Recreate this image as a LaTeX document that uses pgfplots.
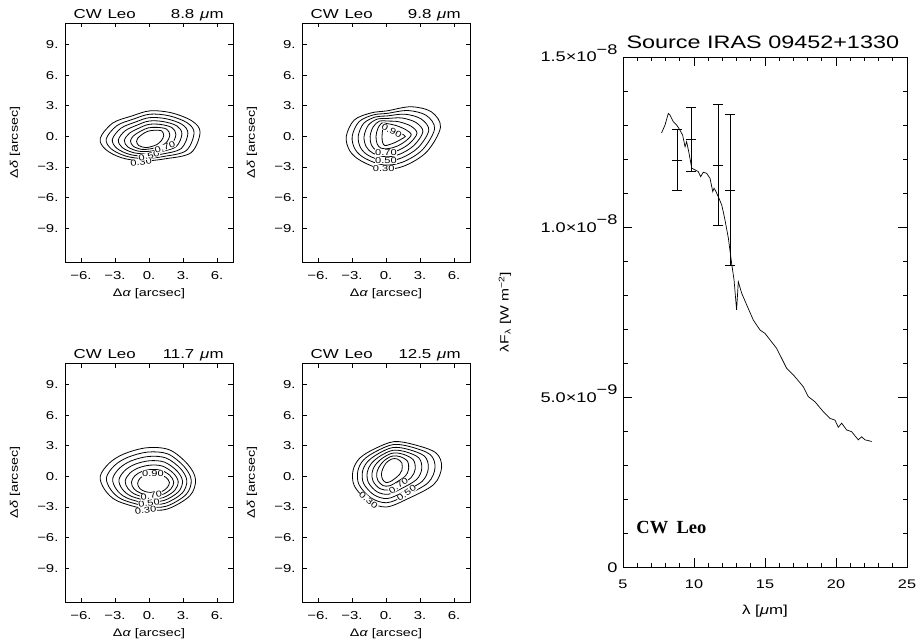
\documentclass[border=0pt]{standalone}
\usepackage{fontspec}
\setmainfont{Liberation Sans}[FakeStretch=1.3]
\newfontfamily\cwfont{Liberation Serif}
\usepackage{graphicx}
\usepackage{pgfplots}
\pgfplotsset{compat=1.18}

\newcommand{\fs}[1]{\fontsize{#1}{#1}\selectfont}

\pgfplotsset{
  cpanel/.style={
    scale only axis, width=168pt, height=239pt, clip=false,
    xmin=-7.4, xmax=7.4, ymin=-12.3, ymax=11.1,
    axis line style={line width=0.8pt},
    xtick={-6,-3,0,3,6}, xticklabels={−6.,−3.,0.,3.,6.},
    ytick={-9,-6,-3,0,3,6,9}, yticklabels={−9.,−6.,−3.,0.,3.,6.,9.},
    major tick length=4.5pt, tick align=inside,
    tick style={line width=0.7pt, black},
    tick label style={font=\fs{11.5}},
    xticklabel style={yshift=-6pt},
    yticklabel style={xshift=-3pt},
    xlabel={Δ\textit{α} [arcsec]}, ylabel={Δ\textit{δ} [arcsec]},
    label style={font=\fs{11}},
    xlabel style={at={(axis description cs:0.5,0)}, anchor=center, yshift=-32pt},
    ylabel style={at={(axis description cs:0,0.5)}, anchor=center, yshift=50pt},
  },
  ctr/.style={black, line width=0.8pt, smooth cycle, tension=0.55, mark=none},
}
\tikzset{clab/.style={font=\fs{8.5}, fill=white, inner sep=0.3pt}}

\begin{document}
\begin{tikzpicture}
\useasboundingbox (0,0) rectangle (918pt,-639pt);

% ---- 8.8 um
\begin{axis}[cpanel, at={(65pt,-23pt)}, anchor=north west]
\addplot[ctr] coordinates {(4.5,0.4)(3.8,1.5)(2.0,2.3)(0.1,2.5)(-1.5,2.0)(-3.2,1.3)(-4.3,-0.2)(-3.8,-1.3)(-2.4,-2.1)(-0.6,-2.4)(1.4,-2.2)(3.7,-1.6)};
\addplot[ctr] coordinates {(3.97,0.35)(3.35,1.34)(1.75,2.02)(0.07,2.17)(-1.35,1.7)(-2.83,1.05)(-3.77,-0.25)(-3.32,-1.23)(-2.05,-1.93)(-0.47,-2.17)(1.28,-1.97)(3.27,-1.4)};
\addplot[ctr] coordinates {(3.43,0.3)(2.9,1.18)(1.5,1.73)(0.03,1.83)(-1.2,1.4)(-2.47,0.8)(-3.23,-0.3)(-2.83,-1.17)(-1.7,-1.77)(-0.33,-1.93)(1.17,-1.73)(2.83,-1.2)};
\addplot[ctr] coordinates {(2.9,0.25)(2.45,1.03)(1.25,1.45)(0,1.5)(-1.05,1.1)(-2.1,0.55)(-2.7,-0.35)(-2.35,-1.1)(-1.35,-1.6)(-0.2,-1.7)(1.05,-1.5)(2.4,-1.0)};
\addplot[ctr] coordinates {(2.37,0.2)(2.0,0.87)(1.0,1.17)(-0.03,1.17)(-0.9,0.8)(-1.73,0.3)(-2.17,-0.4)(-1.87,-1.03)(-1.0,-1.43)(-0.07,-1.47)(0.93,-1.27)(1.97,-0.8)};
\addplot[ctr] coordinates {(1.83,0.15)(1.55,0.71)(0.75,0.88)(-0.07,0.83)(-0.75,0.5)(-1.37,0.05)(-1.63,-0.45)(-1.38,-0.97)(-0.65,-1.27)(0.07,-1.23)(0.82,-1.03)(1.53,-0.6)};
\addplot[ctr] coordinates {(1.3,0.1)(1.1,0.55)(0.5,0.6)(-0.1,0.5)(-0.6,0.2)(-1.0,-0.2)(-1.1,-0.5)(-0.9,-0.9)(-0.3,-1.1)(0.2,-1.0)(0.7,-0.8)(1.1,-0.4)};
\node[clab, rotate=8] at (axis cs:-0.7,-2.55) {0.30};
\node[clab, rotate=15] at (axis cs:0.0,-1.9) {0.50};
\node[clab, rotate=20] at (axis cs:1.4,-1.05) {0.70};
\node[anchor=base west, font=\fs{13}] at (rel axis cs:0.03,1.02) {CW\hspace{0.45em}Leo};
\node[anchor=base east, font=\fs{13}] at (rel axis cs:0.965,1.02) {8.8\hspace{0.45em}\textit{μ}m};
\end{axis}

% ---- 9.8 um
\begin{axis}[cpanel, at={(302pt,-23pt)}, anchor=north west]
\addplot[ctr] coordinates {(4.8,0.9)(4.0,2.4)(2.2,2.9)(0.1,2.5)(-1.3,2.3)(-2.8,1.6)(-3.5,0)(-3.2,-1.4)(-2.2,-2.4)(-0.3,-3.2)(1.6,-2.9)(3.6,-1.5)};
\addplot[ctr] coordinates {(4.28,0.75)(3.55,2.05)(1.93,2.53)(0.1,2.25)(-1.12,2.1)(-2.38,1.43)(-2.98,0)(-2.72,-1.27)(-1.85,-2.15)(-0.2,-2.8)(1.47,-2.52)(3.22,-1.3)};
\addplot[ctr] coordinates {(3.77,0.6)(3.1,1.7)(1.67,2.17)(0.1,2.0)(-0.93,1.9)(-1.97,1.27)(-2.45,0)(-2.23,-1.13)(-1.5,-1.9)(-0.1,-2.4)(1.33,-2.13)(2.83,-1.1)};
\addplot[ctr] coordinates {(3.25,0.45)(2.65,1.35)(1.4,1.8)(0.1,1.75)(-0.75,1.7)(-1.55,1.1)(-1.93,0)(-1.75,-1.0)(-1.15,-1.65)(0,-2.0)(1.2,-1.75)(2.45,-0.9)};
\addplot[ctr] coordinates {(2.73,0.3)(2.2,1.0)(1.13,1.43)(0.1,1.5)(-0.57,1.5)(-1.13,0.93)(-1.4,0)(-1.27,-0.87)(-0.8,-1.4)(0.1,-1.6)(1.07,-1.37)(2.07,-0.7)};
\addplot[ctr] coordinates {(2.22,0.15)(1.75,0.65)(0.87,1.07)(0.1,1.25)(-0.38,1.3)(-0.72,0.77)(-0.88,0)(-0.78,-0.73)(-0.45,-1.15)(0.2,-1.2)(0.93,-0.98)(1.68,-0.5)};
\addplot[ctr] coordinates {(1.7,0)(1.3,0.3)(0.6,0.7)(0.1,1.0)(-0.2,1.1)(-0.3,0.6)(-0.35,0)(-0.3,-0.6)(-0.1,-0.9)(0.3,-0.8)(0.8,-0.6)(1.3,-0.3)};
\node[clab] at (axis cs:-0.2,-3.2) {0.30};
\node[clab] at (axis cs:0.0,-1.6) {0.70};
\node[clab] at (axis cs:0.0,-2.35) {0.50};
\node[clab, rotate=-28] at (axis cs:0.5,0.55) {0.90};
\node[anchor=base west, font=\fs{13}] at (rel axis cs:0.03,1.02) {CW\hspace{0.45em}Leo};
\node[anchor=base east, font=\fs{13}] at (rel axis cs:0.965,1.02) {9.8\hspace{0.45em}\textit{μ}m};
\end{axis}

% ---- 11.7 um
\begin{axis}[cpanel, at={(65pt,-363pt)}, anchor=north west]
\addplot[ctr] coordinates {(4.1,-0.3)(3.4,1.2)(1.8,2.6)(-0.2,2.8)(-2.2,2.2)(-3.5,1.3)(-4.3,0)(-3.9,-1.3)(-2.8,-2.4)(-0.3,-3.2)(1.6,-3.2)(3.6,-1.9)};
\addplot[ctr] coordinates {(3.72,-0.35)(3.08,0.98)(1.65,2.2)(-0.12,2.38)(-1.88,1.86)(-3.05,1.05)(-3.75,-0.12)(-3.38,-1.28)(-2.38,-2.25)(-0.18,-2.93)(1.52,-2.92)(3.27,-1.77)};
\addplot[ctr] coordinates {(3.33,-0.4)(2.77,0.77)(1.5,1.8)(-0.03,1.95)(-1.57,1.52)(-2.6,0.8)(-3.2,-0.23)(-2.87,-1.27)(-1.97,-2.1)(-0.07,-2.67)(1.43,-2.63)(2.93,-1.63)};
\addplot[ctr] coordinates {(2.95,-0.45)(2.45,0.55)(1.35,1.4)(0.05,1.53)(-1.25,1.18)(-2.15,0.55)(-2.65,-0.35)(-2.35,-1.25)(-1.55,-1.95)(0.05,-2.4)(1.35,-2.35)(2.6,-1.5)};
\addplot[ctr] coordinates {(2.57,-0.5)(2.13,0.33)(1.2,1.0)(0.13,1.1)(-0.93,0.83)(-1.7,0.3)(-2.1,-0.47)(-1.83,-1.23)(-1.13,-1.8)(0.17,-2.13)(1.27,-2.07)(2.27,-1.37)};
\addplot[ctr] coordinates {(2.18,-0.55)(1.82,0.12)(1.05,0.6)(0.22,0.68)(-0.62,0.49)(-1.25,0.05)(-1.55,-0.58)(-1.32,-1.22)(-0.72,-1.65)(0.28,-1.87)(1.18,-1.78)(1.93,-1.23)};
\addplot[ctr] coordinates {(1.8,-0.6)(1.5,-0.1)(0.9,0.2)(0.3,0.25)(-0.3,0.15)(-0.8,-0.2)(-1.0,-0.7)(-0.8,-1.2)(-0.3,-1.5)(0.4,-1.6)(1.1,-1.5)(1.6,-1.1)};
\node[clab, rotate=8] at (axis cs:-0.3,-3.3) {0.30};
\node[clab, rotate=10] at (axis cs:0.0,-2.6) {0.50};
\node[clab, rotate=10] at (axis cs:0.2,-1.9) {0.70};
\node[clab] at (axis cs:0.35,0.3) {0.90};
\node[anchor=base west, font=\fs{13}] at (rel axis cs:0.03,1.02) {CW\hspace{0.45em}Leo};
\node[anchor=base east, font=\fs{13}] at (rel axis cs:0.965,1.02) {11.7\hspace{0.45em}\textit{μ}m};
\end{axis}

% ---- 12.5 um
\begin{axis}[cpanel, at={(302pt,-363pt)}, anchor=north west]
\addplot[ctr] coordinates {(4.9,0.9)(4.4,2.3)(2.5,3.1)(0.7,3.4)(-1.0,2.7)(-2.3,1.8)(-2.9,0.6)(-2.8,-0.9)(-1.6,-2.4)(0,-3.0)(1.9,-2.2)(4.2,-0.8)};
\addplot[ctr] coordinates {(4.32,0.85)(3.9,2.13)(2.25,2.87)(0.67,3.12)(-0.83,2.47)(-1.97,1.62)(-2.48,0.53)(-2.38,-0.8)(-1.33,-2.1)(0.07,-2.58)(1.72,-1.87)(3.7,-0.63)};
\addplot[ctr] coordinates {(3.73,0.8)(3.4,1.97)(2.0,2.63)(0.63,2.83)(-0.67,2.23)(-1.63,1.43)(-2.07,0.47)(-1.97,-0.7)(-1.07,-1.8)(0.13,-2.17)(1.53,-1.53)(3.2,-0.47)};
\addplot[ctr] coordinates {(3.15,0.75)(2.9,1.8)(1.75,2.4)(0.6,2.55)(-0.5,2.0)(-1.3,1.25)(-1.65,0.4)(-1.55,-0.6)(-0.8,-1.5)(0.2,-1.75)(1.35,-1.2)(2.7,-0.3)};
\addplot[ctr] coordinates {(2.57,0.7)(2.4,1.63)(1.5,2.17)(0.57,2.27)(-0.33,1.77)(-0.97,1.07)(-1.23,0.33)(-1.13,-0.5)(-0.53,-1.2)(0.27,-1.33)(1.17,-0.87)(2.2,-0.13)};
\addplot[ctr] coordinates {(1.98,0.65)(1.9,1.47)(1.25,1.93)(0.53,1.98)(-0.17,1.53)(-0.63,0.88)(-0.82,0.27)(-0.72,-0.4)(-0.27,-0.9)(0.33,-0.92)(0.98,-0.53)(1.7,0.03)};
\addplot[ctr] coordinates {(1.4,0.6)(1.4,1.3)(1.0,1.7)(0.5,1.7)(0,1.3)(-0.3,0.7)(-0.4,0.2)(-0.3,-0.3)(0,-0.6)(0.4,-0.5)(0.8,-0.2)(1.2,0.2)};
\node[clab, rotate=-40] at (axis cs:-1.55,-2.35) {0.30};
\node[clab, rotate=35] at (axis cs:1.8,-1.65) {0.50};
\node[clab, rotate=35] at (axis cs:1.1,-0.9) {0.70};
\node[anchor=base west, font=\fs{13}] at (rel axis cs:0.03,1.02) {CW\hspace{0.45em}Leo};
\node[anchor=base east, font=\fs{13}] at (rel axis cs:0.965,1.02) {12.5\hspace{0.45em}\textit{μ}m};
\end{axis}

% ---- SED
\begin{axis}[at={(623pt,-57pt)}, anchor=north west, scale only axis,
  width=284pt, height=510pt, clip=false,
  xmin=5, xmax=25, ymin=0, ymax=15,
  axis line style={line width=0.8pt},
  xtick={5,10,15,20,25}, xticklabels={5,10,15,20,25}, minor x tick num=4,
  ytick={0,5,10,15},
  yticklabels={0,5.0×10\raisebox{0.55em}{−9},1.0×10\raisebox{0.55em}{−8},1.5×10\raisebox{0.55em}{−8}},
  minor y tick num=4, tick align=inside,
  major tick length=9pt, minor tick length=4.5pt,
  tick style={line width=0.7pt, black},
  xticklabel style={font=\fs{12.5}, yshift=-9pt},
  yticklabel style={font=\fs{14}, anchor=base east, yshift=-5pt, xshift=-2pt},
  xlabel={λ [\textit{μ}m]},
  xlabel style={font=\fs{13}, at={(axis description cs:0.5,0)}, anchor=center, yshift=-44pt},
  ylabel={λF\textsubscript{λ} [W m\textsuperscript{−2}]},
  ylabel style={font=\fs{12}, at={(axis description cs:0,0.5)}, anchor=center, yshift=118pt},
]
\addplot[black, line width=0.7pt, mark=none] coordinates {
(7.72,12.77)(7.96,13.0)(8.19,13.34)(8.31,13.29)(8.54,13.1)(8.78,13.0)(9.01,12.85)
(9.2,12.7)(9.37,12.36)(9.48,12.51)(9.65,12.17)(9.84,11.73)(10.07,11.68)(10.3,11.63)
(10.47,11.48)(10.65,11.61)(10.89,11.58)(11.13,11.43)(11.32,11.04)(11.41,11.14)
(11.55,11.04)(11.71,10.89)(11.95,10.65)(12.06,10.45)(12.18,10.21)(12.42,9.67)
(12.65,8.93)(12.82,8.44)(13.0,7.56)(13.12,8.39)(13.36,8.05)(13.71,7.71)(14.18,7.26)
(14.65,6.97)(15.0,6.87)(15.82,6.43)(16.53,5.84)(17.0,5.65)(17.7,5.3)(18.05,5.01)
(18.52,4.86)(19.1,4.57)(19.58,4.37)(19.93,4.32)(20.16,4.11)(20.4,4.23)(20.75,4.03)
(21.1,3.98)(21.57,3.74)(21.8,3.83)(22.04,3.74)(22.27,3.72)(22.51,3.69)};
\addplot[black, line width=0.6pt, only marks, mark=-, mark size=5pt,
  error bars/.cd, y dir=both, y explicit, error mark=-,
  error mark options={rotate=90, mark size=5pt, line width=0.6pt},
  error bar style={line width=0.6pt}] coordinates {
(8.83,11.97) +- (0,0.90)
(9.79,12.58) +- (0,0.94)
(11.71,11.82) +- (0,1.78)
(12.54,11.09) +- (0,2.22)};
\node[anchor=base west, font=\cwfont\bfseries\fs{18.5}] at (axis cs:5.7,1.0) {CW\hspace{0.45em}Leo};
\node[anchor=base west, font=\fs{18}] at (rel axis cs:0,1.0157) {Source IRAS 09452+1330};
\end{axis}
\end{tikzpicture}
\end{document}
